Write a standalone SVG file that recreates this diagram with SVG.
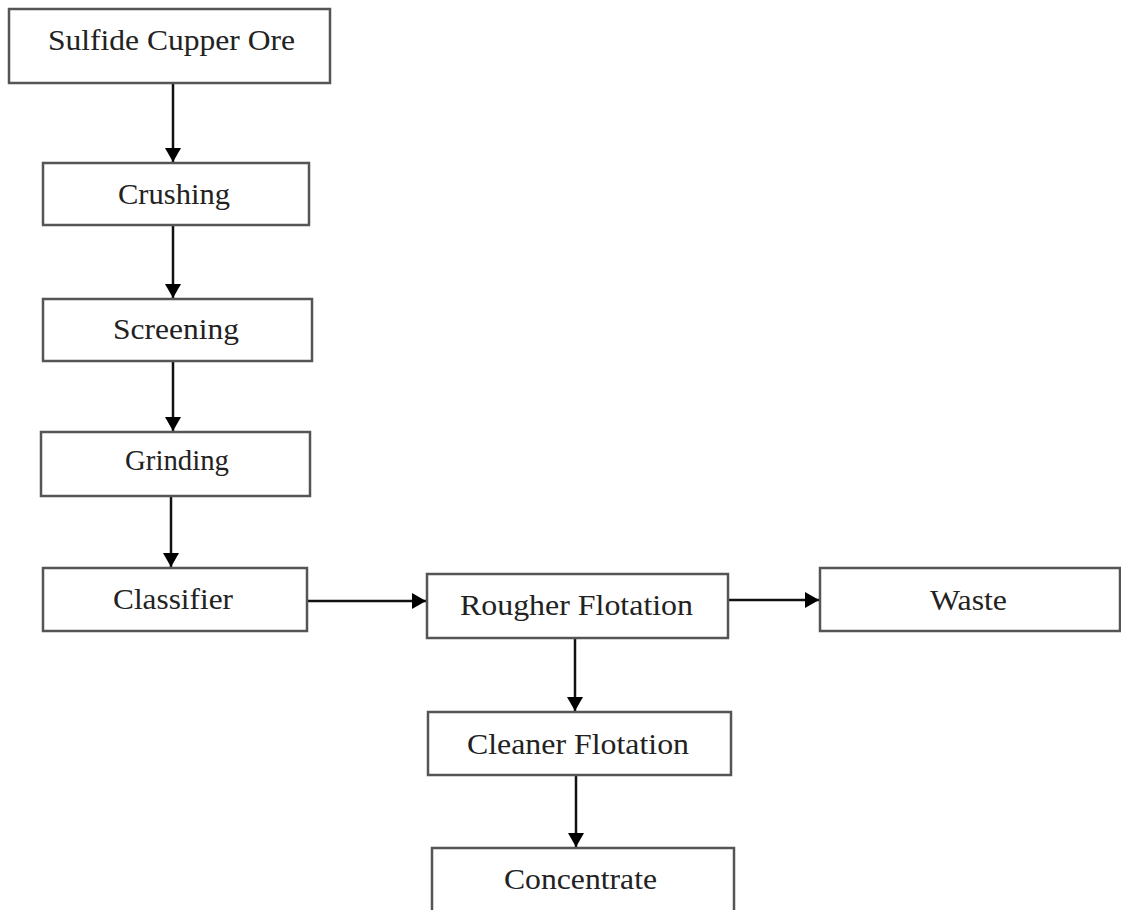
<svg xmlns="http://www.w3.org/2000/svg" width="1121" height="910" viewBox="0 0 1121 910">
<defs>
<style>
.box{fill:#fff;stroke:#555;stroke-width:2.5}
.lbl{font-family:"Liberation Serif","Times New Roman",serif;font-size:30px;fill:#222}
.edge{stroke:#111;stroke-width:2.5;fill:none}
</style>
<marker id="ah" viewBox="0 0 14 16" refX="14" refY="8" markerWidth="14" markerHeight="16" markerUnits="userSpaceOnUse" orient="auto">
<path d="M0,0 L14,8 L0,16 Z" fill="#000"/>
</marker>
</defs>
<rect width="1121" height="910" fill="#fff"/>
<g id="connectors">
<line class="edge" x1="173" y1="84" x2="173" y2="162" marker-end="url(#ah)"/>
<line class="edge" x1="173" y1="226" x2="173" y2="298" marker-end="url(#ah)"/>
<line class="edge" x1="173" y1="362" x2="173" y2="431" marker-end="url(#ah)"/>
<line class="edge" x1="171" y1="497" x2="171" y2="567" marker-end="url(#ah)"/>
<line class="edge" x1="307" y1="601" x2="426" y2="601" marker-end="url(#ah)"/>
<line class="edge" x1="728" y1="600" x2="819" y2="600" marker-end="url(#ah)"/>
<line class="edge" x1="575" y1="639" x2="575" y2="711" marker-end="url(#ah)"/>
<line class="edge" x1="576" y1="776" x2="576" y2="847" marker-end="url(#ah)"/>
</g>
<g id="n-ore"><rect class="box" x="9" y="9" width="321" height="74"/><text class="lbl" x="48" y="50" textLength="247" lengthAdjust="spacingAndGlyphs">Sulfide Cupper Ore</text></g>
<g id="n-crushing"><rect class="box" x="43" y="163" width="266" height="62"/><text class="lbl" x="118" y="204" textLength="112" lengthAdjust="spacingAndGlyphs">Crushing</text></g>
<g id="n-screening"><rect class="box" x="43" y="299" width="269" height="62"/><text class="lbl" x="113" y="339" textLength="126" lengthAdjust="spacingAndGlyphs">Screening</text></g>
<g id="n-grinding"><rect class="box" x="41" y="432" width="269" height="64"/><text class="lbl" x="125" y="470" textLength="104" lengthAdjust="spacingAndGlyphs">Grinding</text></g>
<g id="n-classifier"><rect class="box" x="43" y="568" width="264" height="63"/><text class="lbl" x="113" y="609" textLength="120" lengthAdjust="spacingAndGlyphs">Classifier</text></g>
<g id="n-rougher"><rect class="box" x="427" y="574" width="301" height="64"/><text class="lbl" x="460" y="615" textLength="233" lengthAdjust="spacingAndGlyphs">Rougher Flotation</text></g>
<g id="n-waste"><rect class="box" x="820" y="568" width="300" height="63"/><text class="lbl" x="930" y="610" textLength="77" lengthAdjust="spacingAndGlyphs">Waste</text></g>
<g id="n-cleaner"><rect class="box" x="428" y="712" width="303" height="63"/><text class="lbl" x="467" y="754" textLength="222" lengthAdjust="spacingAndGlyphs">Cleaner Flotation</text></g>
<g id="n-concentrate"><rect class="box" x="432" y="848" width="302" height="70"/><text class="lbl" x="504" y="889" textLength="153" lengthAdjust="spacingAndGlyphs">Concentrate</text></g>
</svg>
